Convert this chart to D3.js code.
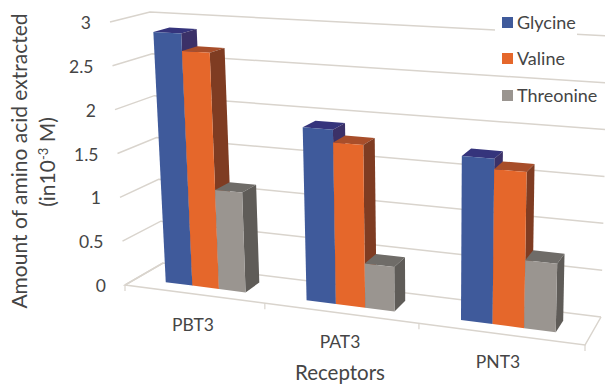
<!DOCTYPE html>
<html><head><meta charset="utf-8">
<script src="https://cdn.jsdelivr.net/npm/d3@7"></script>
<style>html,body{margin:0;background:#fff}svg{display:block}text{font-family:Lato,"Open Sans",sans-serif;fill:#454545}</style>
</head><body><svg id="c" width="605" height="385"></svg>
<script>
const categories = ["PBT3","PAT3","PNT3"];
const seriesNames = ["Glycine","Valine","Threonine"];
const glycine = [2.87,1.91,1.74];
const valine = [2.67,1.77,1.63];
const threonine = [1.12,0.48,0.71];
const yTicks = [0,0.5,1,1.5,2,2.5,3];
const seriesValues = [glycine,valine,threonine];
const faceColors = [
  {front:"#3f5a9b",top:"#35347c",side:"#3b3168"},
  {front:"#e5672b",top:"#a84e2a",side:"#7f3c22"},
  {front:"#9a9590",top:"#6f6c68",side:"#5f5c58"}
];
const gridColor = "#d9d4cd";

const svg = d3.select("#c");
const xFrac = d3.scaleLinear().domain([0,1,2,3]).range([0,0.304,0.639,1]);
const vFrac = d3.scaleLinear().domain([0,3]).range([0,1]);
const corners = {
  flb:[125,285], flt:[110,22], blb:[163,263], blt:[150,12],
  frb:[585,345], frt:[593,48], brb:[601,317], brt:[608,36]
};
const lerp = (a,b,t)=>[a[0]+(b[0]-a[0])*t, a[1]+(b[1]-a[1])*t];
function project(pos,value,depth){
  const u=xFrac(pos), v=vFrac(value);
  const f=lerp(lerp(corners.flb,corners.frb,u),lerp(corners.flt,corners.frt,u),v);
  const b=lerp(lerp(corners.blb,corners.brb,u),lerp(corners.blt,corners.brt,u),v);
  return lerp(f,b,depth);
}
const path = d3.line();

yTicks.forEach(t=>{
  svg.append("path").attr("d",path([project(0,t,0),project(0,t,1),project(3,t,1)]))
    .attr("fill","none").attr("stroke",gridColor).attr("stroke-width",1.5);
});
svg.append("path").attr("d",path([project(0,0,1),project(0,0,0),project(3,0,0),project(3,0,1)]))
  .attr("fill","none").attr("stroke",gridColor).attr("stroke-width",1.5);
[0,1,2,3].forEach(p=>{
  const q=project(p,0,0);
  svg.append("line").attr("x1",q[0]).attr("x2",q[0]).attr("y1",q[1]).attr("y2",q[1]+6)
    .attr("stroke",gridColor).attr("stroke-width",1.2);
});

const barStart=0.213, barW=0.193, d0=0.3, d1=0.72;
categories.forEach((c,i)=>{
  seriesValues.forEach((vals,s)=>{
    const a=i+barStart+s*barW, b=a+barW, v=vals[i], col=faceColors[s];
    svg.append("path").attr("fill",col.top).attr("d",path([project(a,v,d0),project(b,v,d0),project(b,v,d1),project(a,v,d1)])+"Z");
    svg.append("path").attr("fill",col.side).attr("d",path([project(b,0,d0),project(b,v,d0),project(b,v,d1),project(b,0,d1)])+"Z");
    svg.append("path").attr("fill",col.front).attr("d",path([project(a,0,d0),project(b,0,d0),project(b,v,d0),project(a,v,d0)])+"Z");
  });
});

yTicks.forEach(t=>{
  const q=project(0,t,0);
  svg.append("text").attr("x",q[0]-19).attr("y",q[1]+7).attr("text-anchor","end")
    .attr("font-size",17.5).text(t);
});
const catLabelPos=[[193,331],[340,348],[498,368]];
categories.forEach((c,i)=>{
  svg.append("text").attr("x",catLabelPos[i][0]).attr("y",catLabelPos[i][1]).attr("text-anchor","middle")
    .attr("font-size",17.5).text(c);
});
svg.append("text").attr("x",340).attr("y",380).attr("text-anchor","middle").attr("font-size",20.5).text("Receptors");
svg.append("text").attr("transform","translate(27,161) rotate(-90)").attr("text-anchor","middle").attr("font-size",21)
  .text("Amount of amino acid extracted");
const t2=svg.append("text").attr("transform","translate(55,162) rotate(-90)").attr("text-anchor","middle").attr("font-size",21);
t2.append("tspan").text("(in10");
t2.append("tspan").attr("font-size",13).attr("dy",-7).text("-3");
t2.append("tspan").attr("dy",7).text(" M)");

svg.append("rect").attr("x",495).attr("y",12).attr("width",82).attr("height",24).attr("fill","#fff");
const legendY=[17,53,90];
seriesNames.forEach((n,i)=>{
  svg.append("rect").attr("x",502).attr("y",legendY[i]).attr("width",11).attr("height",11).attr("fill",faceColors[i].front);
  svg.append("text").attr("x",517).attr("y",legendY[i]+12).attr("font-size",18).text(n);
});
</script></body></html>
